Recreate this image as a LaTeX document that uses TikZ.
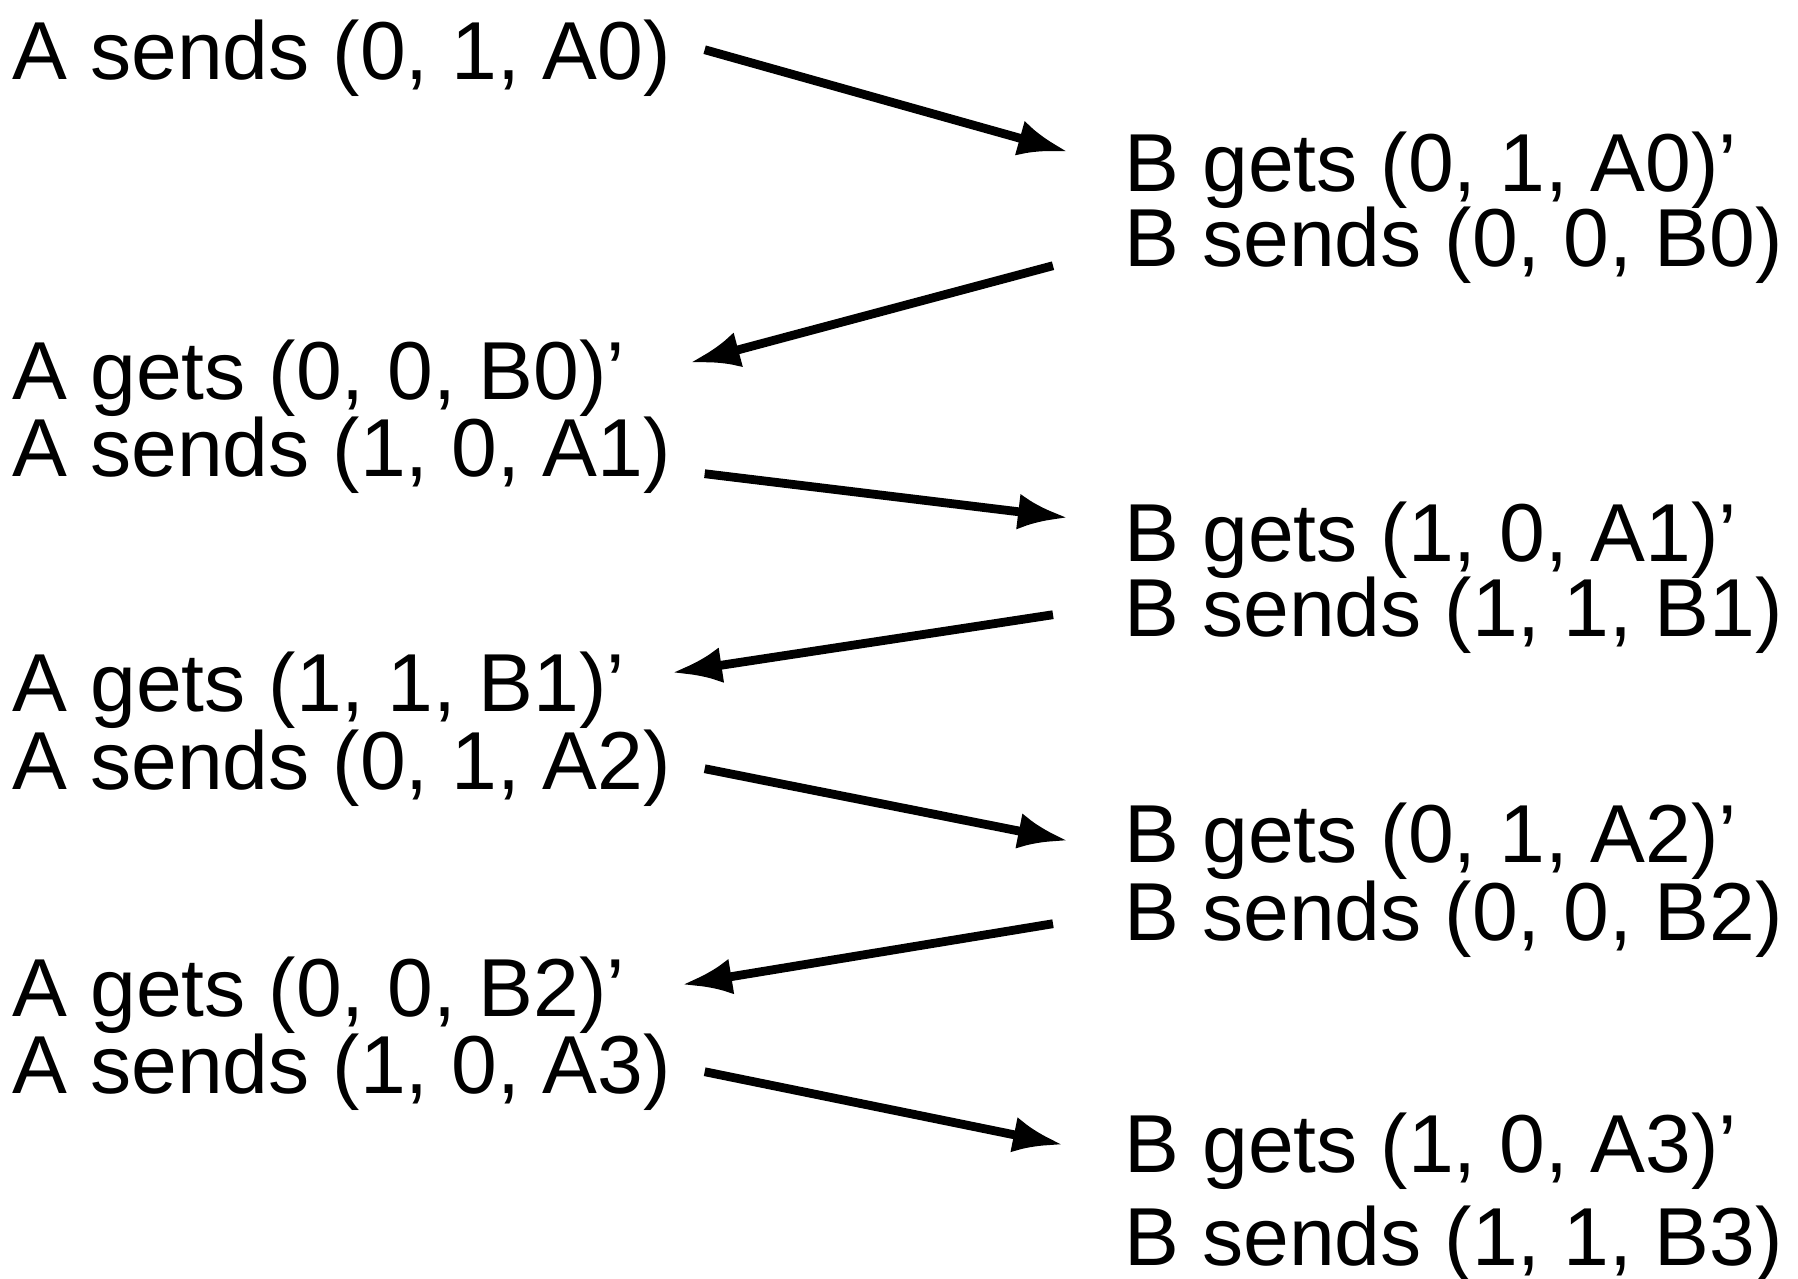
\documentclass[tikz,border=0pt]{standalone}
\usepackage{fontspec}
\setmainfont{Liberation Sans}
\usetikzlibrary{arrows.meta}

\begin{document}
\begin{tikzpicture}[
    txt/.style={anchor=base west, inner sep=0pt, font=\fontsize{23.4}{28}\selectfont},
    msg/.style={line width=2.5pt, -{Latex[length=5mm,width=3.6mm]}}
  ]
    \useasboundingbox (0,0) rectangle (17.98,12.78);

    % Side A
    \node[txt] (as0) at (0.12,11.98) {A sends (0, 1, A0)};
    \node[txt] (ag0) at (0.12,8.78) {A gets (0, 0, B0)'};
    \node[txt] (as1) at (0.12,8.01) {A sends (1, 0, A1)};
    \node[txt] (ag1) at (0.12,5.66) {A gets (1, 1, B1)'};
    \node[txt] (as2) at (0.12,4.88) {A sends (0, 1, A2)};
    \node[txt] (ag2) at (0.12,2.62) {A gets (0, 0, B2)'};
    \node[txt] (as3) at (0.12,1.85) {A sends (1, 0, A3)};

    % Side B
    \node[txt] (bg0) at (11.24,10.86) {B gets (0, 1, A0)'};
    \node[txt] (bs0) at (11.24,10.11) {B sends (0, 0, B0)};
    \node[txt] (bg1) at (11.24,7.16) {B gets (1, 0, A1)'};
    \node[txt] (bs1) at (11.24,6.42) {B sends (1, 1, B1)};
    \node[txt] (bg2) at (11.24,4.16) {B gets (0, 1, A2)'};
    \node[txt] (bs2) at (11.24,3.38) {B sends (0, 0, B2)};
    \node[txt] (bg3) at (11.24,1.06) {B gets (1, 0, A3)'};
    \node[txt] (bs3) at (11.24,0.13) {B sends (1, 1, B3)};

    % Messages A -> B
    \draw[msg] ([shift={(3.3mm,0.9mm)}]as0.east) -- ([shift={(-5.6mm,1.9mm)}]bg0.west);
    \draw[msg] ([shift={(3.3mm,-1.8mm)}]as1.east) -- ([shift={(-5.6mm,2.3mm)}]bg1.west);
    \draw[msg] ([xshift=3.3mm]as2.east) -- ([xshift=-5.6mm]bg2.west);
    \draw[msg] ([xshift=3.3mm]as3.east) -- ([shift={(-6.1mm,0.6mm)}]bg3.west);

    % Messages B -> A
    \draw[msg] ([shift={(-7.1mm,-2mm)}]bs0.west) -- ([shift={(6.4mm,1.6mm)}]ag0.east);
    \draw[msg] ([xshift=-7.1mm]bs1.west) -- ([shift={(4.6mm,1.8mm)}]ag1.east);
    \draw[msg] ([shift={(-7.1mm,-0.5mm)}]bs2.west) -- ([shift={(5.6mm,1mm)}]ag2.east);
\end{tikzpicture}
\end{document}
